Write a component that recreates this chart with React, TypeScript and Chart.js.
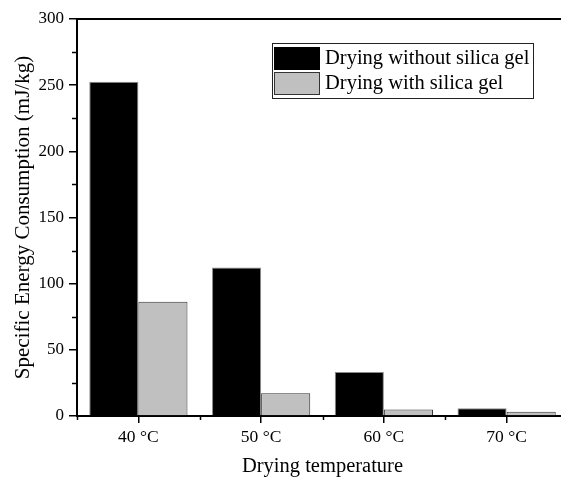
import React, { useEffect, useRef } from "react";
import { Chart, registerables } from "chart.js";

Chart.register(...registerables);

const categories = ["40 °C", "50 °C", "60 °C", "70 °C"];
const withoutGel = [252.5, 112.3, 33.2, 5.8];
const withGel = [86.4, 17.1, 5.0, 3.3];
const seriesLabels = ["Drying without silica gel", "Drying with silica gel"];
const yTicks = [0, 50, 100, 150, 200, 250, 300];
const yMinorTicks = [25, 75, 125, 175, 225, 275];

const FONT = '"Liberation Serif", "Times New Roman", serif';
const CANVAS_W = 580;
const CANVAS_H = 477;

const decorPlugin = {
  id: "decor",
  afterDraw(chart: any) {
    const { ctx, chartArea, scales } = chart;
    const x = scales.x;
    const y = scales.y;
    ctx.save();
    // top frame line
    ctx.strokeStyle = "#000";
    ctx.lineWidth = 2;
    ctx.beginPath();
    ctx.moveTo(chartArea.left - 1, chartArea.top);
    ctx.lineTo(chartArea.right, chartArea.top);
    ctx.stroke();
    // minor ticks
    ctx.lineWidth = 1.5;
    ctx.beginPath();
    yMinorTicks.forEach((v) => {
      const py = Math.round(y.getPixelForValue(v)) + 0.5;
      ctx.moveTo(chartArea.left - 5, py);
      ctx.lineTo(chartArea.left, py);
    });
    for (let i = 0; i <= categories.length; i++) {
      const px = Math.round(x.getPixelForValue(i - 0.5)) + 0.5;
      ctx.moveTo(px, chartArea.bottom);
      ctx.lineTo(px, chartArea.bottom + 4);
    }
    ctx.stroke();

    // legend box
    const lx = 272, ly = 43, lw = 261, lh = 55;
    ctx.lineWidth = 1;
    ctx.strokeStyle = "#222";
    ctx.fillStyle = "#fff";
    ctx.fillRect(lx, ly, lw, lh);
    ctx.strokeRect(lx + 0.5, ly + 0.5, lw, lh);
    const ds = chart.data.datasets;
    ds.forEach((d: any, i: number) => {
      const sy = ly + 4 + i * 25;
      ctx.fillStyle = d.backgroundColor;
      ctx.fillRect(274, sy, 46, 23);
      ctx.strokeStyle = i === 0 ? "#000" : "#333";
      ctx.lineWidth = 1;
      ctx.strokeRect(274.5, sy + 0.5, 45, 22);
      ctx.fillStyle = "#000";
      ctx.font = "20.5px " + FONT;
      ctx.textBaseline = "middle";
      ctx.textAlign = "left";
      ctx.fillText(d.label, 325, sy + 12);
    });
    ctx.restore();
  },
};

export default function App() {
  const ref = useRef<HTMLCanvasElement>(null);
  useEffect(() => {
    if (!ref.current) return;
    const chart = new Chart(ref.current, {
      type: "bar",
      data: {
        labels: categories,
        datasets: [
          {
            label: seriesLabels[0],
            data: withoutGel,
            backgroundColor: "#000000",
            borderColor: "#8a8a8a",
            borderWidth: 1,
          },
          {
            label: seriesLabels[1],
            data: withGel,
            backgroundColor: "#c0c0c0",
            borderColor: "#333333",
            borderWidth: 1,
          },
        ],
      },
      options: {
        animation: false,
        responsive: false,
        devicePixelRatio: 1,
        layout: { padding: { left: 0, top: 19, right: CANVAS_W - 568, bottom: 0 } },
        plugins: { legend: { display: false }, tooltip: { enabled: false } },
        datasets: { bar: { categoryPercentage: 0.8, barPercentage: 1.0 } },
        scales: {
          x: {
            afterFit: (s: any) => {
              s.height = CANVAS_H - 416 - 0;
            },
            grid: {
              display: true,
              drawOnChartArea: false,
              drawTicks: true,
              offset: false,
              tickLength: 7,
              color: "#000",
              lineWidth: 1.5,
            },
            border: { display: true, color: "#000", width: 2 },
            ticks: {
              color: "#000",
              font: { family: FONT, size: 17.5 },
              padding: 4,
              maxRotation: 0,
            },
            title: {
              display: true,
              text: "Drying temperature",
              color: "#000",
              font: { family: FONT, size: 20.5, lineHeight: 0.6 },
              padding: { top: 0, bottom: 4 },
            },
          },
          y: {
            min: 0,
            max: 300,
            afterFit: (s: any) => {
              s.width = 77;
            },
            afterBuildTicks: (s: any) => {
              s.ticks = yTicks.map((v) => ({ value: v }));
            },
            grid: {
              display: true,
              drawOnChartArea: false,
              drawTicks: true,
              tickLength: 8,
              color: "#000",
              lineWidth: 1.5,
            },
            border: { display: true, color: "#000", width: 2 },
            ticks: {
              color: "#000",
              font: { family: FONT, size: 17 },
              padding: 5,
            },
            title: {
              display: true,
              text: "Specific Energy Consumption (mJ/kg)",
              color: "#000",
              font: { family: FONT, size: 21, lineHeight: 1 },
              padding: { top: 12.5, bottom: 0 },
            },
          },
        },
      },
      plugins: [decorPlugin],
    });
    return () => chart.destroy();
  }, []);

  return (
    <div
      style={{
        position: "fixed",
        left: 0,
        top: 0,
        width: 561,
        height: 477,
        overflow: "hidden",
        background: "#fff",
      }}
    >
      <canvas ref={ref} width={CANVAS_W} height={CANVAS_H} style={{ display: "block" }} />
    </div>
  );
}
